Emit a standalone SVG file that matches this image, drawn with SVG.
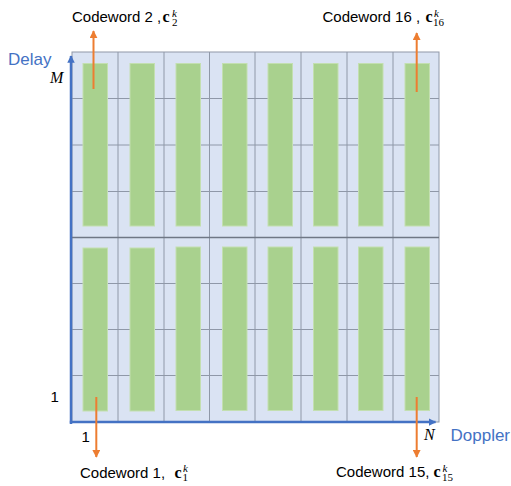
<svg xmlns="http://www.w3.org/2000/svg" width="511" height="486" viewBox="0 0 511 486">
<defs>
<style>
.bg{fill:#dae3f3;stroke:#8f98a8;stroke-width:1}
.gl{stroke:#8f98a8;stroke-width:1;fill:none}
.gm{stroke:#6f7785;stroke-width:1.3;fill:none}
.bar{fill:#a9d18e;stroke:#c3dfb0;stroke-width:1}
.ax{stroke:#4472c4;stroke-width:2.5;fill:none}
.or{stroke:#ed7d31;stroke-width:2;fill:none}
.lbl{font-family:"Liberation Sans",Arial,sans-serif;font-size:15px;fill:#000}
.axl{font-family:"Liberation Sans",Arial,sans-serif;font-size:17px;fill:#4472c4}
.mi{font-family:"Liberation Serif","Times New Roman",serif;font-style:italic;font-size:16px;fill:#000}
.mb{font-family:"Liberation Serif","Times New Roman",serif;font-weight:bold;font-size:16px;fill:#000}
.ms{font-family:"Liberation Serif","Times New Roman",serif;font-weight:normal;font-style:normal;font-size:11px}
.msi{font-family:"Liberation Serif","Times New Roman",serif;font-weight:normal;font-style:italic;font-size:11px}
</style>
<marker id="ob" viewBox="0 0 10 10" refX="9" refY="5" markerWidth="4" markerHeight="4" orient="auto" markerUnits="strokeWidth"><path d="M0,0 L10,5 L0,10 z" fill="#ed7d31"/></marker>
<marker id="bb" viewBox="0 0 10 10" refX="9" refY="5" markerWidth="3" markerHeight="3" orient="auto" markerUnits="strokeWidth"><path d="M0,0 L10,5 L0,10 z" fill="#4472c4"/></marker>
</defs>
<rect x="0" y="0" width="511" height="486" fill="#fff"/>
<g id="grid">
<rect class="bg" x="72" y="52" width="367" height="370"/>
<path class="gl" d="M118,52V422M164,52V422M209.5,52V422M255,52V422M301,52V422M347,52V422M393,52V422M72,98.5H439M72,145H439M72,191.5H439M72,283.5H439M72,329.5H439M72,375.5H439"/>
<path class="gm" d="M72,237.5H439"/>
</g>
<g id="bars">
<rect class="bar" x="83" y="63.5" width="24.5" height="162.5"/>
<rect class="bar" x="130" y="63.5" width="24.5" height="162.5"/>
<rect class="bar" x="176" y="63.5" width="24.5" height="162.5"/>
<rect class="bar" x="222.5" y="63.5" width="24.5" height="162.5"/>
<rect class="bar" x="268" y="63.5" width="24.5" height="162.5"/>
<rect class="bar" x="313.5" y="63.5" width="24.5" height="162.5"/>
<rect class="bar" x="358.5" y="63.5" width="24.5" height="162.5"/>
<rect class="bar" x="405" y="63.5" width="24.5" height="162.5"/>
<rect class="bar" x="83" y="248" width="24.5" height="163"/>
<rect class="bar" x="130" y="248" width="24.5" height="163"/>
<rect class="bar" x="176" y="247" width="24.5" height="163.5"/>
<rect class="bar" x="222.5" y="247" width="24.5" height="163.5"/>
<rect class="bar" x="268" y="247" width="24.5" height="163.5"/>
<rect class="bar" x="313.5" y="247" width="24.5" height="163.5"/>
<rect class="bar" x="358.5" y="247" width="24.5" height="163.5"/>
<rect class="bar" x="405" y="247" width="24.5" height="163.5"/>
</g>
<g id="axes">
<path class="ax" d="M71,424V56" marker-end="url(#bb)"/>
<path class="ax" d="M69.8,422H435.5" marker-end="url(#bb)"/>
</g>
<g id="connectors">
<path class="or" d="M93.5,89V31" marker-end="url(#ob)"/>
<path class="or" d="M416.7,92V33" marker-end="url(#ob)"/>
<path class="or" d="M96.3,397V457" marker-end="url(#ob)"/>
<path class="or" d="M416.7,397V457" marker-end="url(#ob)"/>
</g>
<g id="labels">
<text class="axl" x="8" y="65">Delay</text>
<text class="axl" x="450.5" y="441">Doppler</text>
<text class="mi" x="50" y="83">M</text>
<text class="mi" x="424" y="440">N</text>
<text class="lbl" x="50.5" y="402">1</text>
<text class="lbl" x="81.5" y="442">1</text>
</g>
<g id="cw2">
<text class="lbl" x="72" y="22">Codeword 2 ,</text>
<text class="mb" x="162.5" y="22">c<tspan class="msi" x="172" dy="-5.5">k</tspan><tspan class="ms" x="172" dy="9.5">2</tspan></text>
</g>
<g id="cw16">
<text class="lbl" x="322.5" y="22">Codeword 16 ,</text>
<text class="mb" x="425.5" y="22">c<tspan class="msi" x="434" dy="-5.5">k</tspan><tspan class="ms" x="433" dy="9.5">16</tspan></text>
</g>
<g id="cw1">
<text class="lbl" x="80" y="477.5">Codeword 1,</text>
<text class="mb" x="174.5" y="477.5">c<tspan class="msi" x="183" dy="-5.5">k</tspan><tspan class="ms" x="182.5" dy="9">1</tspan></text>
</g>
<g id="cw15">
<text class="lbl" x="336" y="477">Codeword 15,</text>
<text class="mb" x="433.5" y="477">c<tspan class="msi" x="442.5" dy="-5.5">k</tspan><tspan class="ms" x="442" dy="9">15</tspan></text>
</g>
</svg>
